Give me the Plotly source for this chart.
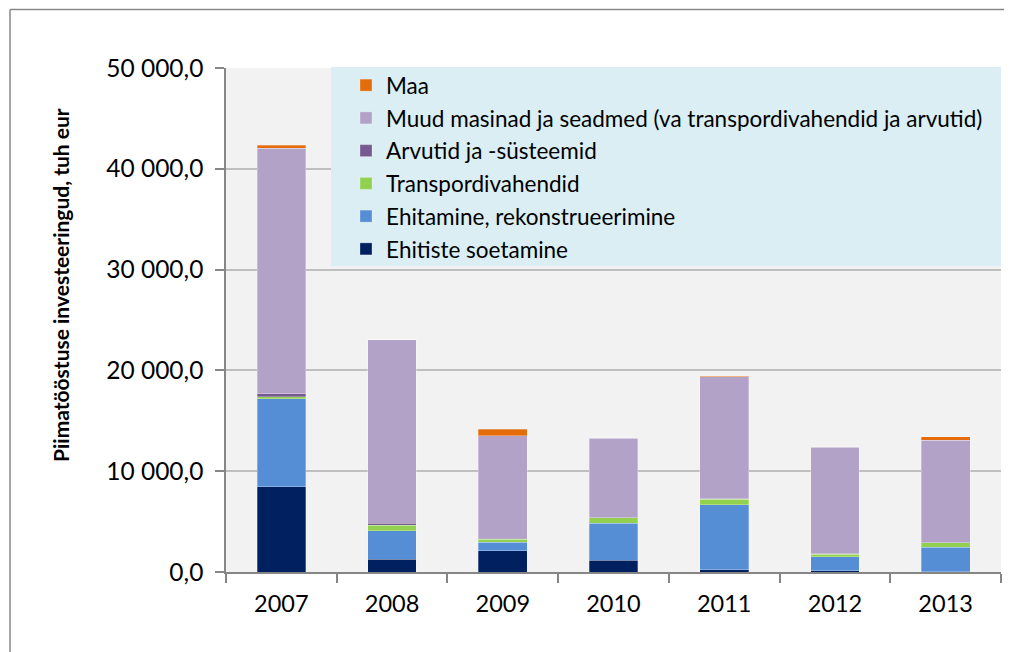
import plotly.graph_objects as go

years = ["2007", "2008", "2009", "2010", "2011", "2012", "2013"]
series_names = [
    "Ehitiste soetamine",
    "Ehitamine, rekonstrueerimine",
    "Transpordivahendid",
    "Arvutid ja -süsteemid",
    "Muud masinad ja seadmed (va transpordivahendid ja arvutid)",
    "Maa",
]
ehitiste_soetamine = [8460, 1260, 2110, 1160, 230, 100, 30]
ehitamine = [8730, 2840, 860, 3670, 6420, 1390, 2410]
transpordivahendid = [200, 540, 270, 530, 560, 270, 470]
arvutid = [270, 200, 130, 50, 50, 40, 40]
muud_masinad = [24370, 18180, 10150, 7880, 12100, 10580, 10120]
maa = [330, 30, 630, 30, 60, 30, 370]
y_title = "Piimatööstuse investeeringud, tuh eur"

series_values = [ehitiste_soetamine, ehitamine, transpordivahendid, arvutid, muud_masinad, maa]
colors = ["#002060", "#558ED5", "#92D050", "#745A8E", "#B3A2C7", "#E46C0A"]

FONT = "Lato"
OFF = 8  # page offset of the figure
W, H = 1004, 644
L, R, T, B = 218, 11, 60, 80
pw = W - L - R
ph = H - T - B

def px_x(p):  # page pixel -> paper
    return (p - OFF - L) / pw

def px_y(p):
    return (H - B - (p - OFF)) / ph

fig = go.Figure()
for i, (name, vals, col) in enumerate(zip(series_names, series_values, colors)):
    fig.add_trace(go.Bar(
        x=years, y=vals, name=name, legendgroup=f"g{i}", legendrank=100 - i,
        marker=dict(color=col, line=dict(color="rgba(255,255,255,0.35)", width=0.8)),
    ))

fig.update_layout(
    width=W, height=H,
    margin=dict(l=L, r=R, t=T, b=B, autoexpand=False),
    barmode="stack", bargap=0.56,
    paper_bgcolor="white", plot_bgcolor="#F2F2F2",
    separators=", ",
    font=dict(family=FONT, color="black"),
    showlegend=True,
    legend=dict(
        x=px_x(346), y=px_y(64), xanchor="left", yanchor="top",
        bgcolor="rgba(0,0,0,0)", traceorder="grouped", tracegroupgap=0.5,
        font=dict(family=FONT, size=22.5, color="black"),
    ),
    xaxis=dict(
        showline=True, linecolor="#868686", linewidth=1.5,
        ticks="outside", tickson="boundaries", ticklen=9, tickcolor="#868686", tickwidth=1.5,
        tickfont=dict(family=FONT, size=23.5, color="black"),
        ticklabelstandoff=10,
        showgrid=False,
    ),
    yaxis=dict(
        range=[0, 50000], dtick=10000, tickformat=",.1f",
        showline=True, linecolor="#868686", linewidth=1.5,
        ticks="outside", ticklen=9, tickcolor="#868686", tickwidth=1.5,
        tickfont=dict(family=FONT, size=24.5, color="black"),
        ticklabelstandoff=7,
        showgrid=True, gridcolor="#BFBFBF", gridwidth=1.5,
        zeroline=False,
    ),
    shapes=[
        dict(type="rect", xref="paper", yref="paper",
             x0=px_x(331), x1=px_x(1001), y0=px_y(266), y1=px_y(67),
             fillcolor="#DAEEF3", line=dict(width=0), layer="above"),
        dict(type="line", xref="paper", yref="paper",
             x0=px_x(10), x1=px_x(10), y0=px_y(9.5), y1=px_y(700),
             line=dict(color="#888888", width=1.5)),
        dict(type="line", xref="paper", yref="paper",
             x0=px_x(10), x1=px_x(1100), y0=px_y(9.5), y1=px_y(9.5),
             line=dict(color="#888888", width=1.5)),
    ],
    annotations=[
        dict(text=f"<b>{y_title}</b>", xref="paper", yref="paper",
             x=px_x(60), y=px_y(285), textangle=-90, showarrow=False,
             xanchor="center", yanchor="middle",
             font=dict(family=FONT, size=21, color="black")),
    ],
)

fig.write_html("out.html")
